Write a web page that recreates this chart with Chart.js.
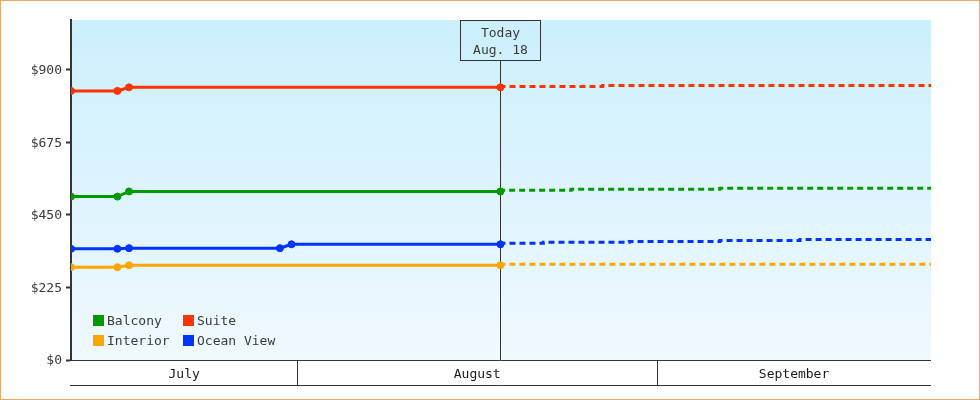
<!DOCTYPE html>
<html>
<head>
<meta charset="utf-8">
<script src="https://cdn.jsdelivr.net/npm/chart.js@4.4.1/dist/chart.umd.min.js"></script>
<style>
body { margin: 0; background: #fff; }
#wrap { position: relative; width: 980px; height: 400px; }
</style>
</head>
<body>
<div id="wrap"><canvas id="fares"></canvas></div>
<script>
// days are counted from July 1 (Aug 1 = 31, Sep 1 = 62)
var seriesNames = ['Balcony', 'Suite', 'Interior', 'Ocean View'];
var seriesColors = ['#009900', '#ff3300', '#ffa500', '#0033ff'];

var balconyDays = [11.5, 15.5, 16.5, 48.5];
var balconyPrices = [507, 507, 523, 523];
var suiteDays = [11.5, 15.5, 16.5, 48.5];
var suitePrices = [835, 835, 846, 846];
var interiorDays = [11.5, 15.5, 16.5, 48.5];
var interiorPrices = [288, 288, 294, 294];
var oceanDays = [11.5, 15.5, 16.5, 29.5, 30.5, 48.5];
var oceanPrices = [345, 345, 347, 347, 359, 359];

// forecast after today
var balconyFcDays = [48.5, 54.6, 67.4, 79.4, 85.6];
var balconyFcPrices = [523, 527, 530, 533, 533];
var suiteFcDays = [48.5, 57.3, 76.3, 85.6];
var suiteFcPrices = [846, 849, 852, 852];
var interiorFcDays = [48.5, 67.4, 85.6];
var interiorFcPrices = [294, 297, 297];
var oceanFcDays = [48.5, 52.2, 59.6, 67.4, 74.3, 82.0, 85.6];
var oceanFcPrices = [359, 362, 365, 368, 371, 374, 374];

var monthNames = ['July', 'August', 'September'];
var monthStarts = [0, 31, 62, 92];
var yTicks = [0, 225, 450, 675, 900];
var todayDay = 48.5;
var todayText = ['Today', 'Aug. 18'];
var xMin = 11.5, xMax = 85.6, yMax = 1055;

var FONT = "'DejaVu Sans Mono', monospace";
var TEXT = '#3a3a3a';

function points(days, vals) {
    var out = [];
    for (var i = 0; i < days.length; i++) {
        out.push({x: days[i], y: vals[i]});
    }
    return out;
}

var pastPoints = [
    points(balconyDays, balconyPrices),
    points(suiteDays, suitePrices),
    points(interiorDays, interiorPrices),
    points(oceanDays, oceanPrices)
];
var forecastPoints = [
    points(balconyFcDays, balconyFcPrices),
    points(suiteFcDays, suiteFcPrices),
    points(interiorFcDays, interiorFcPrices),
    points(oceanFcDays, oceanFcPrices)
];

var datasets = [];
for (var i = 0; i < seriesNames.length; i++) {
    datasets.push({
        label: seriesNames[i] + ' forecast',
        data: forecastPoints[i],
        borderColor: seriesColors[i],
        borderWidth: 3,
        borderDash: [6, 4],
        pointRadius: 0,
        stepped: 'after'
    });
    datasets.push({
        label: seriesNames[i],
        data: pastPoints[i],
        borderColor: seriesColors[i],
        backgroundColor: seriesColors[i],
        borderWidth: 3,
        pointRadius: 3.5,
        pointBorderWidth: 1,
        pointHoverRadius: 3.5,
        tension: 0
    });
}

var decorations = {
    id: 'decorations',
    beforeDraw: function(chart) {
        var ctx = chart.ctx, a = chart.chartArea;
        ctx.save();
        var g = ctx.createLinearGradient(0, a.top, 0, a.bottom);
        g.addColorStop(0, '#cbeffd');
        g.addColorStop(1, '#f0f9fe');
        ctx.fillStyle = g;
        ctx.fillRect(a.left, a.top, a.right - a.left, a.bottom - a.top);
        ctx.restore();
    },
    beforeDatasetsDraw: function(chart) {
        var ctx = chart.ctx, a = chart.chartArea, x = chart.scales.x;
        var px = Math.round(x.getPixelForValue(todayDay)) + 0.5;
        ctx.save();
        ctx.strokeStyle = '#333';
        ctx.lineWidth = 1;
        ctx.strokeRect(px - 40, a.top + 0.5, 80, 40);
        ctx.beginPath();
        ctx.moveTo(px, a.top + 40);
        ctx.lineTo(px, a.bottom);
        ctx.stroke();
        ctx.fillStyle = TEXT;
        ctx.font = '13px ' + FONT;
        ctx.textAlign = 'center';
        ctx.textBaseline = 'alphabetic';
        ctx.fillText(todayText[0], px, a.top + 16.5);
        ctx.fillText(todayText[1], px, a.top + 34);
        ctx.restore();
    },
    afterDraw: function(chart) {
        var ctx = chart.ctx, a = chart.chartArea, x = chart.scales.x;
        ctx.save();
        // month band under the plot
        ctx.strokeStyle = '#333';
        ctx.lineWidth = 1;
        ctx.beginPath();
        ctx.moveTo(a.left - 1, a.bottom + 0.5);
        ctx.lineTo(a.right, a.bottom + 0.5);
        ctx.moveTo(a.left - 1, a.bottom + 25.5);
        ctx.lineTo(a.right, a.bottom + 25.5);
        for (var m = 1; m < monthStarts.length - 1; m++) {
            if (monthStarts[m] > xMin && monthStarts[m] < xMax) {
                var mx = Math.round(x.getPixelForValue(monthStarts[m])) + 0.5;
                ctx.moveTo(mx, a.bottom);
                ctx.lineTo(mx, a.bottom + 25);
            }
        }
        ctx.stroke();
        ctx.fillStyle = '#1a1a1a';
        ctx.font = '13px ' + FONT;
        ctx.textAlign = 'center';
        ctx.textBaseline = 'alphabetic';
        for (var k = 0; k < monthNames.length; k++) {
            var l = Math.max(a.left, x.getPixelForValue(monthStarts[k]));
            var r = Math.min(a.right, x.getPixelForValue(monthStarts[k + 1]));
            ctx.fillText(monthNames[k], (l + r) / 2, a.bottom + 17.5);
        }

        // legend, two columns inside the plot
        ctx.textAlign = 'left';
        for (var s = 0; s < seriesNames.length; s++) {
            var lx = a.left + 22 + (s % 2) * 90;
            var ly = a.bottom - 45 + Math.floor(s / 2) * 20;
            ctx.fillStyle = seriesColors[s];
            ctx.fillRect(lx, ly, 11, 11);
            ctx.fillStyle = TEXT;
            ctx.fillText(seriesNames[s], lx + 14, ly + 10);
        }

        // outer frame
        ctx.strokeStyle = '#e9a96b';
        ctx.strokeRect(0.5, 0.5, chart.width - 1, chart.height - 1);
        ctx.restore();
    }
};

new Chart(document.getElementById('fares'), {
    type: 'line',
    data: { datasets: datasets },
    options: {
        animation: false,
        responsive: true,
        maintainAspectRatio: false,
        layout: { padding: { top: 20, right: 49, bottom: 40, left: 0 } },
        plugins: {
            legend: { display: false },
            tooltip: { enabled: false }
        },
        scales: {
            x: { type: 'linear', min: xMin, max: xMax, display: false },
            y: {
                min: 0,
                max: yMax,
                afterFit: function(scale) { scale.width = 71; },
                afterBuildTicks: function(scale) {
                    scale.ticks = yTicks.map(function(v) { return {value: v}; });
                },
                ticks: {
                    color: TEXT,
                    padding: 4,
                    labelOffset: 1,
                    font: { family: FONT, size: 13 },
                    callback: function(v) { return '$' + v; }
                },
                grid: { drawOnChartArea: false, tickLength: 5, tickColor: '#333', tickWidth: 2 },
                border: { color: '#333', width: 2 }
            }
        }
    },
    plugins: [decorations]
});
</script>
</body>
</html>
